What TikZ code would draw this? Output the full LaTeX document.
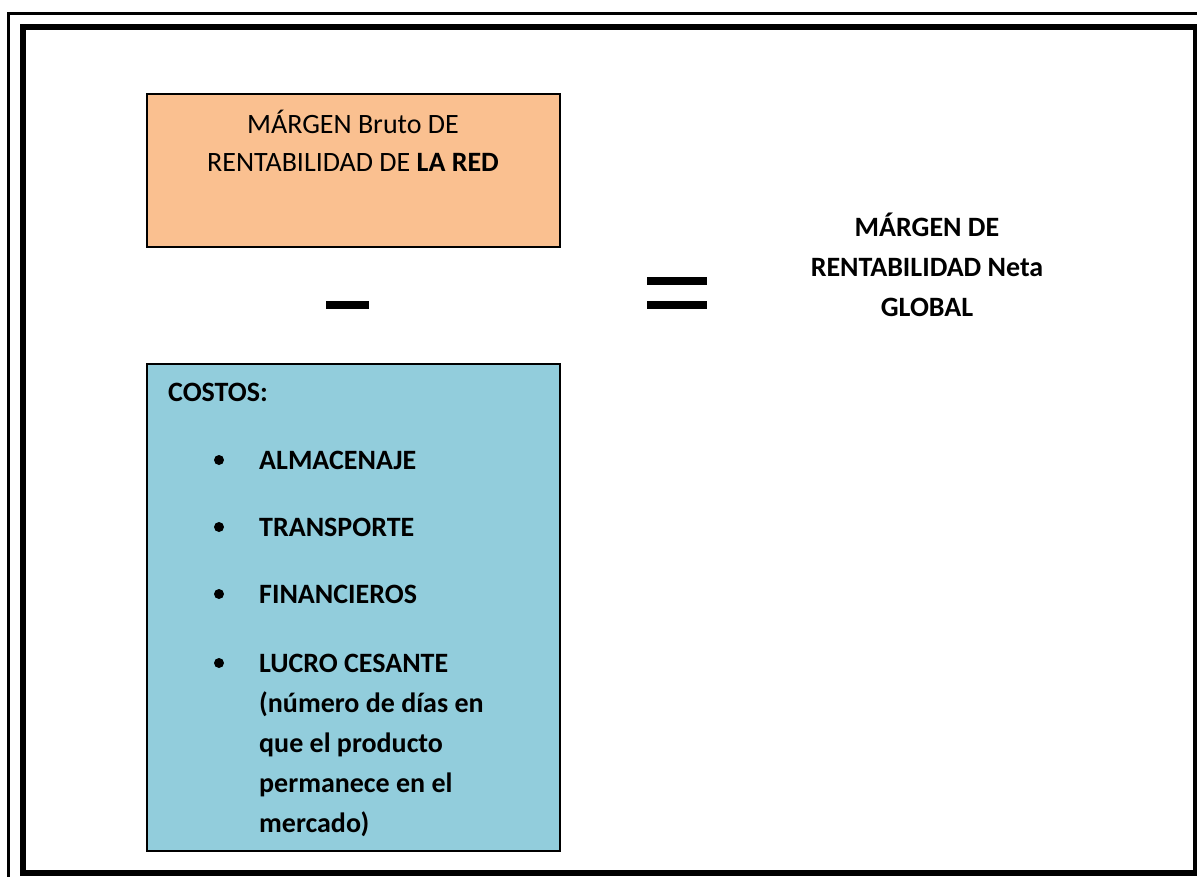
\documentclass[tikz,border=0pt]{standalone}
\usepackage{fontspec}
\setmainfont{Carlito}
\definecolor{naranja}{HTML}{FAC090}
\definecolor{celeste}{HTML}{92CDDC}
\tikzset{
    caja/.style={draw=black, line width=1.5pt, inner sep=0pt, anchor=north west},
    texto/.style={font=\fontsize{28}{38}\selectfont, inner sep=0pt},
    negrita/.style={font=\fontsize{28}{40}\selectfont\bfseries, inner sep=0pt},
    signo/.style={fill=black, inner sep=0pt, minimum height=8pt}
}
\begin{document}
\begin{tikzpicture}[x=1pt,y=-1pt]
    % Zona de la figura
    \useasboundingbox (0,0) rectangle (1197,876);
    \clip (0,0) rectangle (1197,876);
    % Marco doble
    \draw[line width=2.5pt] (8.5,13.5) rectangle (1215,895);
    \draw[line width=6pt] (23,27) rectangle (1196,873);
    % Cajas
    \node[caja, fill=naranja, minimum width=413pt, minimum height=153pt] (bruto) at (146,93) {};
    \node[caja, fill=celeste, minimum width=413pt, minimum height=487pt] (costos) at (146,363) {};
    % Texto del margen bruto (base = ultima linea)
    \node[texto, anchor=base, align=center] (brutotxt) at (353,171)
        {MÁRGEN Bruto DE\\RENTABILIDAD DE \textbf{LA RED}};
    % Signos menos e igual
    \node[signo, minimum width=43pt] (menos) at (347.5,305) {};
    \node[signo, minimum width=60pt] (igual1) at (677,281) {};
    \node[signo, minimum width=60pt] (igual2) at (677,305) {};
    % Resultado
    \node[negrita, anchor=base, align=center] (neta) at (927,316)
        {MÁRGEN DE\\RENTABILIDAD Neta\\GLOBAL};
    % Lista de costos
    \node[negrita, anchor=base west] (titulo) at (168,401) {COSTOS:};
    \node[negrita, anchor=base west] (almacenaje) at (259,469) {ALMACENAJE};
    \node[negrita, anchor=base west] (transporte) at (259,536) {TRANSPORTE};
    \node[negrita, anchor=base west] (financieros) at (259,603) {FINANCIEROS};
    \node[negrita, anchor=base west, align=left] (lucro) at (259,832)
        {LUCRO CESANTE\\(número de días en\\que el producto\\permanece en el\\mercado)};
    % Viñetas
    \foreach \y in {469,536,603,672} {
        \fill (219,\y-9) circle (5pt);}
\end{tikzpicture}
\end{document}
